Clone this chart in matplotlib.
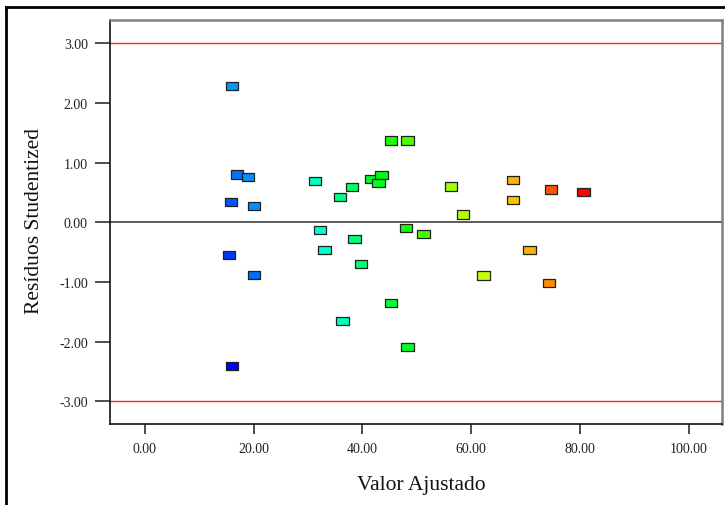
import matplotlib
matplotlib.use("Agg")
import matplotlib.pyplot as plt
from matplotlib.colors import LinearSegmentedColormap, Normalize
from matplotlib.lines import Line2D

# fitted values (x) and studentized residuals (y)
fitted = [16.06, 16.98, 19.00, 15.88, 20.11, 15.45, 20.11, 16.06,
          31.27, 35.87, 38.13, 41.70, 43.47, 42.99, 45.25, 48.25,
          56.24, 58.44, 67.70, 67.70, 74.63, 80.63, 32.19, 33.06,
          38.58, 39.74, 48.01, 51.20, 70.69, 62.23, 74.32, 45.25,
          36.37, 48.25]
resid = [2.28, 0.80, 0.76, 0.34, 0.27, -0.55, -0.88, -2.41,
         0.69, 0.42, 0.59, 0.73, 0.79, 0.66, 1.37, 1.37,
         0.60, 0.13, 0.71, 0.37, 0.55, 0.51, -0.13, -0.46,
         -0.28, -0.70, -0.10, -0.20, -0.46, -0.89, -1.02, -1.35,
         -1.65, -2.09]

xticks = [0, 20, 40, 60, 80, 100]
yticks = [-3, -2, -1, 0, 1, 2, 3]
limit = 3.0

# points are coloured by (approximate) actual response
actual = [f + 2.3 * r for f, r in zip(fitted, resid)]
cmap = LinearSegmentedColormap.from_list(
    "de", ["#0000ff", "#00ffff", "#00ff00", "#ffff00", "#ff0000"])
norm = Normalize(vmin=10.5, vmax=82)

plt.rcParams["font.family"] = ["Liberation Serif", "DejaVu Serif"]

fig = plt.figure(figsize=(7.25, 5.06), dpi=100)
ax = fig.add_axes([110 / 725, 1 - 425 / 506, 612 / 725, 404 / 506])

ax.axhline(limit, color="#ff2020", lw=1.0, zorder=1)
ax.axhline(-limit, color="#ff2020", lw=1.0, zorder=1)
ax.axhline(0, color="#404040", lw=1.2, zorder=1)

rect = [(-1.5, -1), (1.5, -1), (1.5, 1), (-1.5, 1), (-1.5, -1)]
ax.scatter(fitted, resid, c=actual, cmap=cmap, norm=norm, marker=rect,
           s=80, edgecolors="#202020", linewidths=0.9, zorder=3)

ax.set_xlim(-6.4, 106.1)
ax.set_ylim(-3.38, 3.39)
ax.set_xticks(xticks)
ax.set_yticks(yticks)
ax.set_xticklabels([f"{v:.2f}" for v in xticks])
ax.set_yticklabels([f"{v:.2f}" for v in yticks])
ax.tick_params(axis="x", length=7, width=1.2, color="#303030", pad=6,
               labelsize=10, labelcolor="#222222")
ax.tick_params(axis="y", length=11, width=1.2, color="#303030", pad=5,
               labelsize=10, labelcolor="#222222")

for side in ("left", "bottom"):
    ax.spines[side].set_color("#111111")
    ax.spines[side].set_linewidth(1.2)
for side in ("top", "right"):
    ax.spines[side].set_color("#808080")
    ax.spines[side].set_linewidth(1.8)

fig.text(421 / 725, 1 - 486 / 506, "Valor Ajustado",
         ha="center", va="center", fontsize=15.5, color="#111111")
fig.text(35 / 725, 1 - 221 / 506, "Resíduos Studentized", rotation=90,
         ha="center", va="center", fontsize=15.5, color="#111111")

# outer frame (left and top edges visible)
fig.add_artist(Line2D([6 / 725, 6 / 725], [0, 1 - 8 / 506],
                      transform=fig.transFigure, color="black", lw=2))
fig.add_artist(Line2D([6 / 725, 1], [1 - 8 / 506, 1 - 8 / 506],
                      transform=fig.transFigure, color="black", lw=2))

fig.savefig("out.png", dpi=100)
